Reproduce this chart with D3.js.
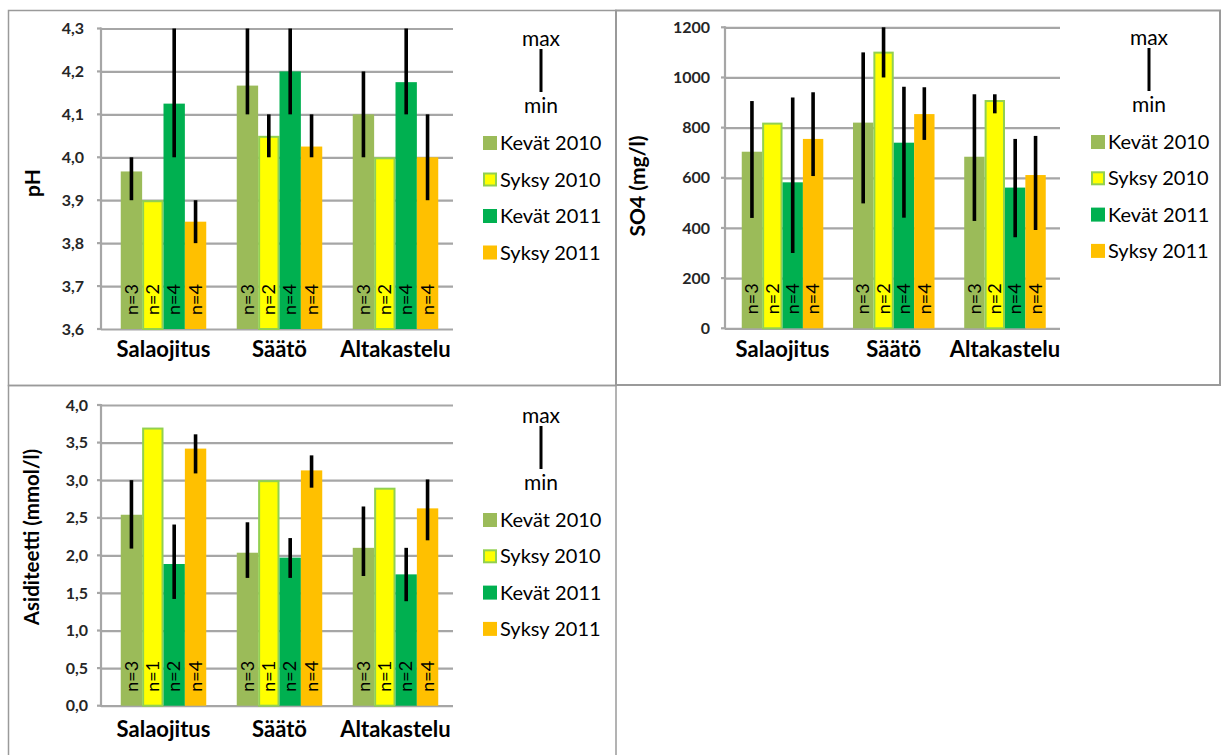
<!DOCTYPE html>
<html>
<head>
<meta charset="utf-8">
<script src="https://cdn.jsdelivr.net/npm/d3@7"></script>
<style>
  html, body { margin: 0; padding: 0; background: #fff; }
  svg { display: block; font-family: Lato, "Open Sans", sans-serif; }
</style>
</head>
<body>
<svg id="chart" width="1222" height="755"></svg>
<script>
// ---------- DATA ----------
const categories = ["Salaojitus", "Säätö", "Altakastelu"];
const seriesNames = ["Kevät 2010", "Syksy 2010", "Kevät 2011", "Syksy 2011"];
const seriesColors = ["#9BBB59", "#FFFF00", "#00B050", "#FFC000"];

// pH (rows = series, cols = categories)
const phTicks = [3.6, 3.7, 3.8, 3.9, 4.0, 4.1, 4.2, 4.3];
const phMean = [[3.967, 4.167, 4.10], [3.90, 4.05, 4.00], [4.125, 4.20, 4.175], [3.85, 4.025, 4.00]];
const phMin  = [[3.9, 4.1, 4.0], [3.9, 4.0, 4.0], [4.0, 4.1, 4.1], [3.8, 4.0, 3.9]];
const phMax  = [[4.0, 4.3, 4.2], [3.9, 4.1, 4.0], [4.3, 4.3, 4.3], [3.9, 4.1, 4.1]];
const phN    = [3, 2, 4, 4];

// SO4 (mg/l)
const so4Ticks = [0, 200, 400, 600, 800, 1000, 1200];
const so4Mean = [[704, 820, 684], [820, 1103, 910], [582, 740, 561], [755, 854, 611]];
const so4Min  = [[440, 498, 428], [820, 1000, 857], [300, 441, 363], [607, 751, 392]];
const so4Max  = [[906, 1100, 933], [820, 1200, 933], [920, 963, 755], [941, 961, 767]];
const so4N    = [3, 2, 4, 4];

// Asiditeetti (mmol/l)
const acTicks = [0.0, 0.5, 1.0, 1.5, 2.0, 2.5, 3.0, 3.5, 4.0];
const acMean = [[2.54, 2.035, 2.10], [3.70, 3.00, 2.90], [1.885, 1.97, 1.747], [3.42, 3.13, 2.625]];
const acMin  = [[2.09, 1.70, 1.725], [3.70, 3.00, 2.90], [1.42, 1.70, 1.39], [3.09, 2.90, 2.20]];
const acMax  = [[3.00, 2.44, 2.65], [3.70, 3.00, 2.90], [2.41, 2.23, 2.10], [3.61, 3.33, 3.01]];
const acN    = [3, 1, 2, 4];

// ---------- DRAW ----------
const svg = d3.select("#chart");
const commaLocale = d3.formatLocale({ decimal: ",", thousands: "", grouping: [3], currency: ["", ""] });
const fmt1 = commaLocale.format(".1f");
const fmt0 = commaLocale.format("d");

const gridColor = "#A6A6A6";
const borderColor = "#9A9A9A";

// panel borders
svg.append("rect").attr("x", 8.5).attr("y", 10.5).attr("width", 607.5).attr("height", 375)
  .attr("fill", "none").attr("stroke", borderColor).attr("stroke-width", 1.5);
svg.append("rect").attr("x", 616).attr("y", 10.5).attr("width", 604).attr("height", 374.5)
  .attr("fill", "none").attr("stroke", borderColor).attr("stroke-width", 2);
svg.append("rect").attr("x", 8.5).attr("y", 385.5).attr("width", 607.5).attr("height", 380)
  .attr("fill", "none").attr("stroke", borderColor).attr("stroke-width", 1.5);

function drawPanel(cfg) {
  const g = svg.append("g");
  const y = d3.scaleLinear().domain(cfg.domain).range([cfg.yBottom, cfg.yTop]);
  const x = d3.scaleBand().domain(categories).range(cfg.xRange).paddingInner(cfg.pad).paddingOuter(cfg.pad / 2);
  const xs = d3.scaleBand().domain(d3.range(seriesNames.length)).range([0, x.bandwidth()]);

  // gridlines via axis
  const yAxis = d3.axisLeft(y).tickValues(cfg.ticks).tickFormat(cfg.fmt)
    .tickSize(-(cfg.gridRight - cfg.axisX)).tickSizeOuter(0).tickPadding(0);
  const ag = g.append("g").attr("transform", `translate(${cfg.axisX},0)`).call(yAxis);
  ag.select(".domain").remove();
  ag.selectAll(".tick line").attr("stroke", gridColor).attr("stroke-width", 2.2);
  ag.selectAll(".tick text").remove();
  // outer tick marks
  g.selectAll(".otick").data(cfg.ticks).join("line")
    .attr("x1", cfg.axisX - 4).attr("x2", cfg.axisX)
    .attr("y1", d => y(d)).attr("y2", d => y(d))
    .attr("stroke", gridColor).attr("stroke-width", 2.2);
  // tick labels
  g.selectAll(".tlab").data(cfg.ticks).join("text")
    .attr("x", cfg.labelRight).attr("y", d => y(d)).attr("dy", "0.35em")
    .attr("text-anchor", "end").attr("font-size", 16).attr("font-weight", "bold")
    .attr("fill", "#262626").text(cfg.fmt);
  // y axis line
  g.append("line").attr("x1", cfg.axisX).attr("x2", cfg.axisX)
    .attr("y1", y(cfg.domain[1]) - 1).attr("y2", y(cfg.domain[0]) + 1)
    .attr("stroke", gridColor).attr("stroke-width", 2.2);

  // bars
  seriesNames.forEach((s, si) => {
    const cells = categories.map((c, ci) => ({ c, ci, v: cfg.mean[si][ci], lo: cfg.min[si][ci], hi: cfg.max[si][ci], n: cfg.n[si] }));
    const isS10 = si === 1;
    g.selectAll(".bar" + si).data(cells).join("rect")
      .attr("x", d => x(d.c) + xs(si) + (isS10 ? 1 : 0))
      .attr("y", d => y(d.v) + (isS10 ? 1 : 0))
      .attr("width", xs.bandwidth() - (isS10 ? 2 : 0))
      .attr("height", d => y(cfg.domain[0]) - y(d.v) - (isS10 ? 1 : 0))
      .attr("fill", seriesColors[si])
      .attr("stroke", isS10 ? "#92D050" : "none")
      .attr("stroke-width", isS10 ? 2 : 0);
    // n labels
    g.selectAll(".nlab" + si).data(cells).join("text")
      .attr("transform", d => `translate(${x(d.c) + xs(si) + xs.bandwidth() / 2},${y(cfg.domain[0]) - 14}) rotate(-90)`)
      .attr("dy", "0.35em").attr("text-anchor", "start")
      .attr("font-size", 18).attr("fill", "#000").text(d => "n=" + d.n);
    // error bars
    g.selectAll(".err" + si).data(cells).join("line")
      .attr("x1", d => x(d.c) + xs(si) + xs.bandwidth() / 2)
      .attr("x2", d => x(d.c) + xs(si) + xs.bandwidth() / 2)
      .attr("y1", d => y(d.lo)).attr("y2", d => y(d.hi))
      .attr("stroke", "#000").attr("stroke-width", 3.6);
  });

  // category labels
  g.selectAll(".clab").data(categories).join("text")
    .attr("x", d => x(d) + x.bandwidth() / 2).attr("y", y(cfg.domain[0]) + cfg.catDy)
    .attr("text-anchor", "middle").attr("font-size", 22).attr("font-weight", "bold")
    .attr("fill", "#000").text(d => d);

  // y title
  g.append("text").attr("transform", `translate(${cfg.titleX},${cfg.titleY}) rotate(-90)`)
    .attr("text-anchor", "middle").attr("dy", "0.35em")
    .attr("font-size", cfg.titleSize).attr("font-weight", "bold").attr("fill", "#000").text(cfg.title);

  // legend
  const lg = g.append("g");
  lg.append("text").attr("x", cfg.legX + 59).attr("y", cfg.legY + 14).attr("text-anchor", "middle")
    .attr("font-size", 21).text("max");
  lg.append("line").attr("x1", cfg.legX + 59).attr("x2", cfg.legX + 59)
    .attr("y1", cfg.legY + 17).attr("y2", cfg.legY + 60).attr("stroke", "#000").attr("stroke-width", 3);
  lg.append("text").attr("x", cfg.legX + 59).attr("y", cfg.legY + 81).attr("text-anchor", "middle")
    .attr("font-size", 21).text("min");
  seriesNames.forEach((s, si) => {
    const cy = cfg.legY + 111 + si * cfg.legStep;
    lg.append("rect").attr("x", cfg.legX + 1 + (si === 1 ? 1 : 0)).attr("y", cy - 7 + (si === 1 ? 1 : 0))
      .attr("width", si === 1 ? 12 : 14).attr("height", si === 1 ? 12 : 14)
      .attr("fill", seriesColors[si]).attr("stroke", si === 1 ? "#92D050" : "none").attr("stroke-width", 2);
    lg.append("text").attr("x", cfg.legX + 18).attr("y", cy).attr("dy", "0.35em")
      .attr("font-size", 20).text(s);
  });
}

drawPanel({
  domain: [3.6, 4.3], ticks: phTicks, fmt: fmt1, yBottom: 329, yTop: 28.5,
  xRange: [105.5, 453.5], pad: 0.263, axisX: 101, gridRight: 453, labelRight: 84,
  mean: phMean, min: phMin, max: phMax, n: phN,
  catDy: 28, title: "pH", titleSize: 21, titleX: 33, titleY: 183,
  legX: 482, legY: 32, legStep: 36.5
});
drawPanel({
  domain: [0, 1200], ticks: so4Ticks, fmt: fmt0, yBottom: 328.3, yTop: 27.3,
  xRange: [726.9, 1060.6], pad: 0.267, axisX: 725, gridRight: 1060, labelRight: 710,
  mean: so4Mean, min: so4Min, max: so4Max, n: so4N,
  catDy: 29, title: "SO4 (mg/l)", titleSize: 21, titleX: 638, titleY: 186,
  legX: 1090, legY: 31, legStep: 36.3
});
drawPanel({
  domain: [0, 4], ticks: acTicks, fmt: fmt1, yBottom: 705.7, yTop: 405,
  xRange: [105.5, 453.5], pad: 0.263, axisX: 101, gridRight: 453, labelRight: 88,
  mean: acMean, min: acMin, max: acMax, n: acN,
  catDy: 31, title: "Asiditeetti (mmol/l)", titleSize: 20.5, titleX: 32, titleY: 537,
  legX: 482, legY: 409, legStep: 36.3
});
</script>
</body>
</html>
